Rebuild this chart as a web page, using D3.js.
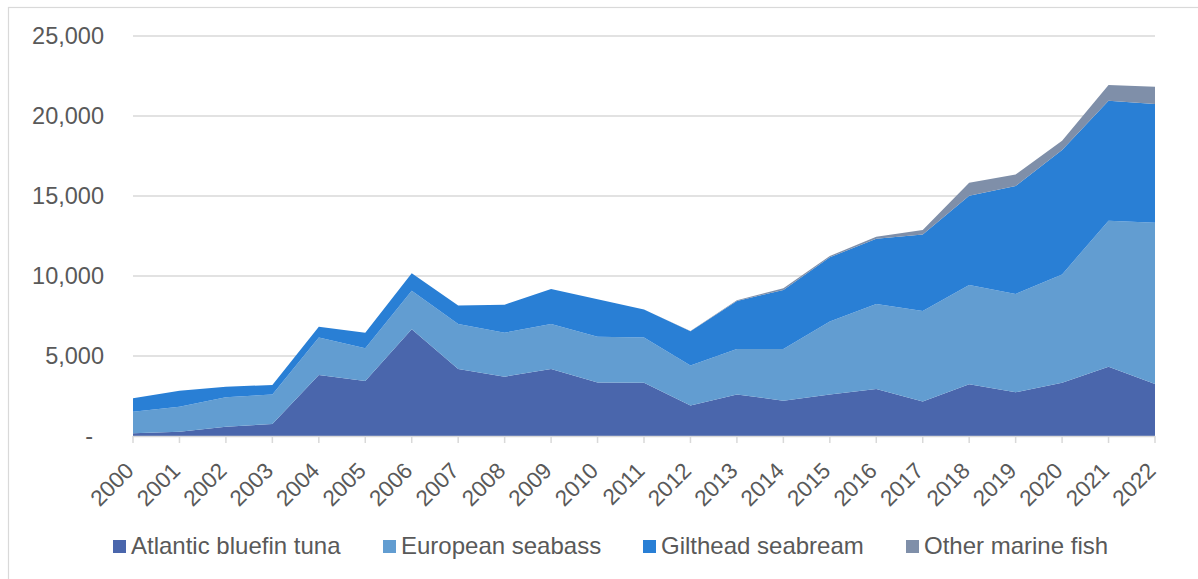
<!DOCTYPE html>
<html>
<head>
<meta charset="utf-8">
<script src="https://cdn.jsdelivr.net/npm/d3@7"></script>
<style>
  html, body { margin: 0; padding: 0; background: #fff; }
  svg { display: block; font-family: "Liberation Sans", Arial, sans-serif; }
</style>
</head>
<body>
<svg id="chart" width="1198" height="579"></svg>
<script>
const years = ["2000","2001","2002","2003","2004","2005","2006","2007","2008","2009","2010","2011","2012","2013","2014","2015","2016","2017","2018","2019","2020","2021","2022"];
const seriesNames = ["Atlantic bluefin tuna", "European seabass", "Gilthead seabream", "Other marine fish"];
const tuna     = [170, 270, 580, 750, 3810, 3440, 6670, 4190, 3710, 4190, 3350, 3330, 1900, 2600, 2210, 2600, 2940, 2150, 3230, 2730, 3330, 4330, 3250];
const seabass  = [1350, 1560, 1840, 1850, 2340, 2040, 2410, 2810, 2750, 2810, 2860, 2820, 2500, 2840, 3230, 4550, 5310, 5660, 6210, 6145, 6770, 9130, 10080];
const seabream = [840, 1000, 660, 590, 680, 980, 1090, 1150, 1750, 2190, 2330, 1750, 2140, 3000, 3680, 4020, 4080, 4790, 5580, 6755, 7775, 7500, 7420];
const other    = [0, 0, 0, 0, 0, 0, 0, 0, 0, 0, 0, 0, 20, 50, 110, 80, 130, 275, 810, 720, 585, 980, 1080];
const yTicks = [0, 5000, 10000, 15000, 20000, 25000];
const colors = ["#4a66ac", "#629dd1", "#297fd5", "#7f8fa9"];

const svg = d3.select("#chart");
const plotLeft = 133, plotRight = 1155, plotTop = 36, plotBottom = 436;

// outer frame
svg.append("rect").attr("x", 8.5).attr("y", 7.5).attr("width", 1220).attr("height", 620)
  .attr("fill", "none").attr("stroke", "#d9d9d9").attr("stroke-width", 1.2);

const x = d3.scalePoint().domain(years).range([plotLeft, plotRight]);
const y = d3.scaleLinear().domain([0, 25000]).range([plotBottom, plotTop]);

// gridlines
svg.append("g").selectAll("line").data(yTicks.filter(d => d > 0)).join("line")
  .attr("x1", plotLeft).attr("x2", plotRight)
  .attr("y1", d => y(d)).attr("y2", d => y(d))
  .attr("stroke", "#d9d9d9").attr("stroke-width", 1.5);

// y labels
svg.append("g").selectAll("text").data(yTicks).join("text")
  .attr("x", d => d === 0 ? 93 : 104)
  .attr("y", d => y(d))
  .attr("dy", "0.36em")
  .attr("text-anchor", "end")
  .attr("font-size", 23.5)
  .attr("fill", "#595959")
  .text(d => d === 0 ? "-" : d3.format(",")(d));

// stacked areas
const table = years.map((yr, i) => ({
  year: yr,
  [seriesNames[0]]: tuna[i],
  [seriesNames[1]]: seabass[i],
  [seriesNames[2]]: seabream[i],
  [seriesNames[3]]: other[i]
}));
const stack = d3.stack().keys(seriesNames);
const layers = stack(table);
const area = d3.area()
  .x(d => x(d.data.year))
  .y0(d => y(d[0]))
  .y1(d => y(d[1]));
svg.append("g").selectAll("path").data(layers).join("path")
  .attr("d", area)
  .attr("fill", (d, i) => colors[i]);

// x axis line and ticks
svg.append("line").attr("x1", plotLeft).attr("x2", plotRight).attr("y1", plotBottom + 0.5).attr("y2", plotBottom + 0.5)
  .attr("stroke", "#d9d9d9").attr("stroke-width", 1.5);
svg.append("g").selectAll("line").data(years).join("line")
  .attr("x1", d => x(d)).attr("x2", d => x(d))
  .attr("y1", plotBottom).attr("y2", plotBottom + 7)
  .attr("stroke", "#d9d9d9").attr("stroke-width", 1.5);

// x labels
svg.append("g").selectAll("text").data(years).join("text")
  .attr("transform", d => `translate(${x(d) - 9},${plotBottom + 25}) rotate(-45)`)
  .attr("text-anchor", "end")
  .attr("dy", "0.7em")
  .attr("font-size", 22.5)
  .attr("fill", "#595959")
  .text(d => d);

// legend
const legendX = [113, 383, 643, 906];
const lg = svg.append("g").selectAll("g").data(seriesNames).join("g")
  .attr("transform", (d, i) => `translate(${legendX[i]},540)`);
lg.append("rect").attr("width", 13).attr("height", 13).attr("fill", (d, i) => colors[i]);
lg.append("text").attr("x", 18).attr("y", 14)
  .attr("font-size", 24).attr("fill", "#595959").text(d => d);
</script>
</body>
</html>
